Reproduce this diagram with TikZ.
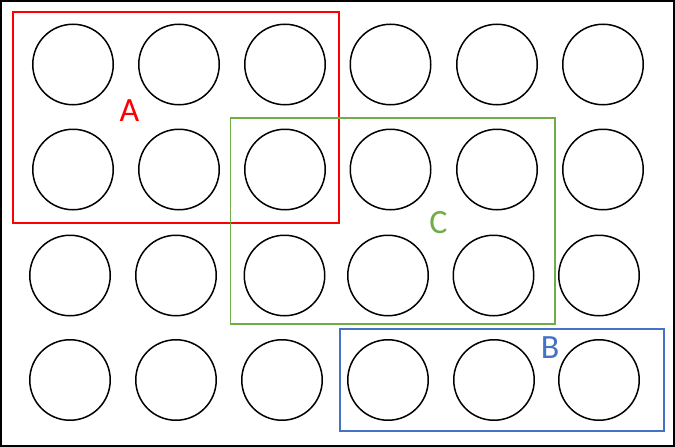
\documentclass[tikz,border=0pt]{standalone}
\usepackage{fontspec}
\setmainfont{Carlito}
\usetikzlibrary{shapes}
\definecolor{setred}{HTML}{FF0000}
\definecolor{setgreen}{HTML}{70AD47}
\definecolor{setblue}{HTML}{4472C4}
\tikzstyle{well} = [circle, draw=black, line width=1.5pt, inner sep=0pt,
    minimum size=80.5pt]
\tikzstyle{setlabel} = [inner sep=0pt, font=\fontsize{34}{40}\selectfont]

\begin{document}
\begin{tikzpicture}[x=1pt,y=-1pt]
  \useasboundingbox (0,0) rectangle (675,447);
  \draw[line width=2pt] (1,1) rectangle (674,446);

  % row 1
  \node[well] (w11) at (73,64.5)    {};
  \node[well] (w12) at (179,64.5)   {};
  \node[well] (w13) at (285,64.5)   {};
  \node[well] (w14) at (390.5,64.5) {};
  \node[well] (w15) at (497,64.5)   {};
  \node[well] (w16) at (603,64.5)   {};
  % row 2
  \node[well] (w21) at (73,169.5)    {};
  \node[well] (w22) at (179,169.5)   {};
  \node[well] (w23) at (285,169.5)   {};
  \node[well] (w24) at (390.5,169.5) {};
  \node[well] (w25) at (497,169.5)   {};
  \node[well] (w26) at (603,169.5)   {};
  % row 3
  \node[well] (w31) at (70,275.5)    {};
  \node[well] (w32) at (176,275.5)   {};
  \node[well] (w33) at (284.5,275.5) {};
  \node[well] (w34) at (388,275.5)   {};
  \node[well] (w35) at (493.5,275.5) {};
  \node[well] (w36) at (599,275.5)   {};
  % row 4
  \node[well] (w41) at (70,380)  {};
  \node[well] (w42) at (176,380) {};
  \node[well] (w43) at (282,380) {};
  \node[well] (w44) at (388,380) {};
  \node[well] (w45) at (494,380) {};
  \node[well] (w46) at (599,380) {};

  % sets
  \draw[setred, line width=1.8pt]   (13,12) rectangle (339,223);
  \draw[setgreen, line width=1.6pt] (230.5,118) rectangle (555,324);
  \draw[setblue, line width=1.6pt]  (340,329) rectangle (664,431);

  \node[setlabel, text=setred]   (A) at (129.5,111) {A};
  \node[setlabel, text=setgreen] (C) at (438.5,223) {C};
  \node[setlabel, text=setblue]  (B) at (550,348)   {B};
\end{tikzpicture}
\end{document}
